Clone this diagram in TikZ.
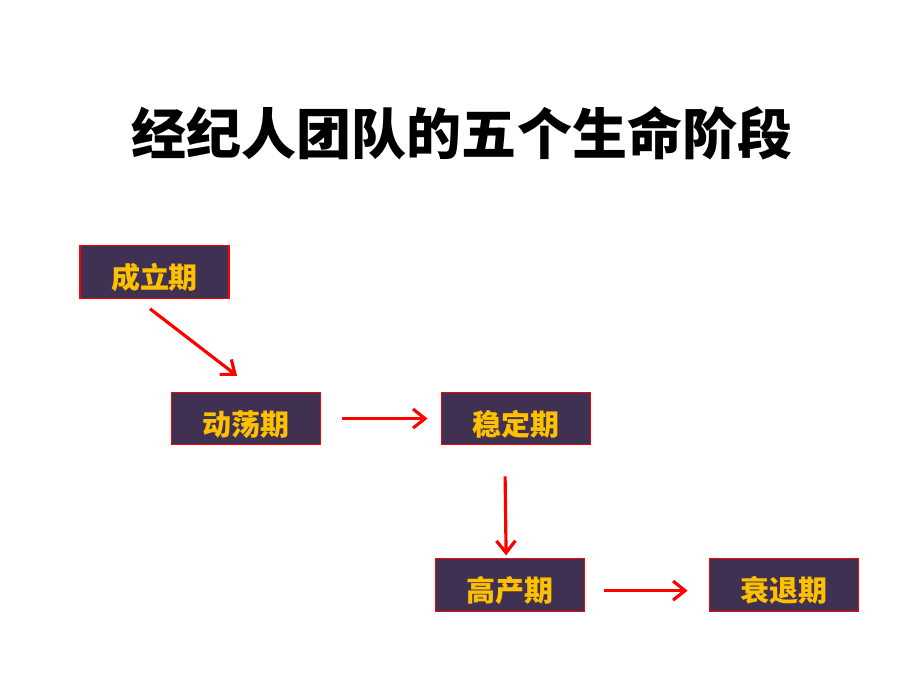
\documentclass[tikz,border=0pt]{standalone}
\usepackage{fontspec}
\usepackage{xcolor}
\usepackage{tikz}
\usetikzlibrary{arrows.meta, positioning}
\newfontfamily\cjk{Noto Sans CJK SC}
\definecolor{stagepurple}{HTML}{403152}
\definecolor{stagegold}{HTML}{FFC000}
\definecolor{flowred}{HTML}{FF0000}

\begin{document}
\begin{tikzpicture}[
  stagebox/.style={draw=flowred, line width=0.6pt, fill=stagepurple, text=stagegold, minimum width=2.98cm, minimum height=1.05cm, inner sep=0pt, text height=19pt, text depth=0pt, font=\cjk\bfseries\fontsize{16.5}{18}\selectfont},
  flow/.style={-{Straight Barb[length=2.4mm,width=3.8mm]}, flowred, line width=1.8pt}
]
  \useasboundingbox (0,0) rectangle (18,-13.5);
  \node[font=\cjk\bfseries\fontsize{31.3}{36}\selectfont] (title) at (9.24,-2.66) {经纪人团队的五个生命阶段};

  \node[stagebox] (chengli) at (3.09,-5.44) {成立期};
  \node[stagebox, below right=1.86cm and -1.18cm of chengli] (dongdang) {动荡期};
  \node[stagebox, right=2.4cm of dongdang] (wending) {稳定期};
  \node[stagebox, below=2.26cm of wending, xshift=-0.12cm] (gaochan) {高产期};
  \node[stagebox, right=2.48cm of gaochan] (shuaitui) {衰退期};

  \draw[flow] ([xshift=-0.09cm, yshift=-0.2cm]chengli.south) -- ([xshift=-0.17cm, yshift=0.32cm]dongdang.north);
  \draw[flow, shorten <=0.42cm, shorten >=0.26cm] (dongdang) -- (wending);
  \draw[flow] ([xshift=-0.21cm, yshift=-0.62cm]wending.south) -- ([xshift=-0.07cm, yshift=0.06cm]gaochan.north);
  \draw[flow] ([xshift=0.38cm, yshift=-0.11cm]gaochan.east) -- ([xshift=-0.42cm, yshift=-0.11cm]shuaitui.west);
\end{tikzpicture}
\end{document}
